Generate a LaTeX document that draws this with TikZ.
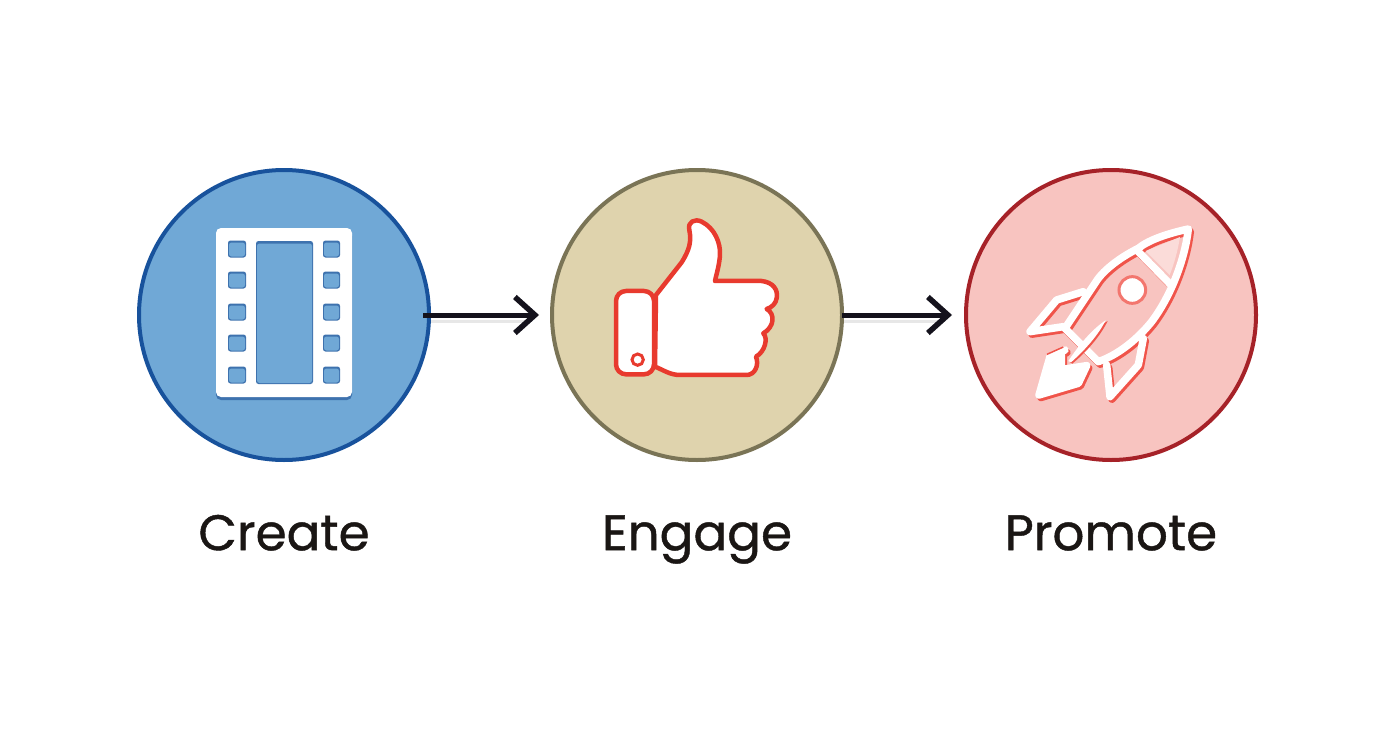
\documentclass[tikz,border=0pt]{standalone}
\usepackage{xcolor}
\usepackage{fontspec}
\setmainfont{Poppins}[FakeBold=0.9]
\usetikzlibrary{arrows.meta,positioning,calc}
\definecolor{createblue}{RGB}{112,168,214}
\definecolor{createedge}{RGB}{24,82,156}
\definecolor{filmshade}{RGB}{62,114,174}
\definecolor{engagesand}{RGB}{223,211,173}
\definecolor{engageedge}{RGB}{122,116,86}
\definecolor{thumbred}{RGB}{232,58,46}
\definecolor{promotepink}{RGB}{248,196,192}
\definecolor{promoteedge}{RGB}{166,34,40}
\definecolor{rocketred}{RGB}{240,84,74}
\definecolor{labelink}{RGB}{26,22,20}
\definecolor{arrowink}{RGB}{20,18,28}
\tikzset{
  stagecircle/.style={circle, draw, line width=4pt, minimum size=290pt, inner sep=0pt, outer sep=0pt},
  stagelabel/.style={font=\fontsize{50}{60}\selectfont, text=labelink, text height=40pt, text depth=12pt, inner sep=0pt},
  flowarrow/.style={draw=arrowink, line width=5pt, -{Straight Barb[length=20pt, width=36pt, line width=5.5pt]}},
  flowshadow/.style={draw=black!30, line width=3pt, opacity=.3},
  filmhole/.style={fill=filmshade, rounded corners=2.5pt},
  filmglass/.style={fill=createblue, rounded corners=2.5pt},
  thumbline/.style={draw=thumbred, line width=4.5pt, fill=white, line join=round},
  rocketline/.style={line width=7.5pt, line join=round, line cap=round},
}
% rocket outlines, in zoomed coordinates
\newcommand{\rocketoutline}[1]{
  \fill[#1] (150,405) -- (105,425) -- (72,540) -- (190,505) -- (215,452) -- (150,462) -- cycle;
  \draw[rocketline, draw=#1] (520,42) .. controls (460,55) and (400,75) .. (370,100) .. controls (310,130) and (260,170) .. (240,205) -- (150,340) -- (250,440) .. controls (310,420) and (370,370) .. (410,320) .. controls (470,240) and (510,130) .. (520,42) -- cycle;
  \draw[rocketline, draw=#1] (370,110) -- (468,210);
  \draw[rocketline, draw=#1] (205,230) -- (125,255) -- (45,350) -- (145,335);
  \draw[rocketline, draw=#1] (385,370) -- (370,450) -- (285,545) -- (275,450);
  \draw[rocketline, draw=#1] (150,405) -- (105,425) -- (72,540) -- (190,505) -- (215,452) -- (150,462);
}
\begin{document}
\begin{tikzpicture}[x=1pt, y=-1pt]
  \useasboundingbox[fill=white] (0,0) rectangle (1392,752);

  % the three stages
  \node[stagecircle, draw=createedge, fill=createblue] (create) at (284,315) {};
  \node[stagecircle, draw=engageedge, fill=engagesand, right=123pt of create] (engage) {};
  \node[stagecircle, draw=promoteedge, fill=promotepink, right=124pt of engage] (promote) {};

  \node[stagelabel, below=50pt of create] (createlabel) {Create};
  \node[stagelabel, below=50pt of engage] (engagelabel) {Engage};
  \node[stagelabel, below=50pt of promote] (promotelabel) {Promote};

  % arrows
  \draw[flowshadow, shorten <=2pt, shorten >=22pt, transform canvas={yshift=-6pt}] (create.east) -- (engage.west);
  \draw[flowshadow, shorten <=2pt, shorten >=22pt, transform canvas={yshift=-6pt}] (engage.east) -- (promote.west);
  \draw[flowarrow, shorten <=-6pt, shorten >=13pt] (create.east) -- (engage.west);
  \draw[flowarrow, shorten >=14pt] (engage.east) -- (promote.west);

  % film strip
  \fill[filmshade, rounded corners=5pt] (216,231) rectangle (352,400);
  \fill[white, rounded corners=5pt] (216,228) rectangle (352,397);
  \fill[filmhole] (256,241) rectangle (313,384);
  \fill[filmglass] (257,243.5) rectangle (312,383);
  \foreach \ypos in {249,280,312,343,375} {
    \fill[filmhole] (228,\ypos-8.5) rectangle (246,\ypos+8.5);
    \fill[filmhole] (323,\ypos-8.5) rectangle (340,\ypos+8.5);
    \fill[filmglass] (229,\ypos-6.5) rectangle (245,\ypos+7.5);
    \fill[filmglass] (324,\ypos-6.5) rectangle (339,\ypos+7.5);
  }

  % thumb
  \begin{scope}[shift={(600,205)}, x=.3333pt, y=-.3333pt]
    \draw[thumbline] (168,270) -- (245,172) .. controls (268,135) and (275,110) .. (268,75) .. controls (262,50) and (285,40) .. (305,50) .. controls (345,70) and (362,115) .. (360,150) .. controls (358,180) and (350,205) .. (345,228) -- (485,228) .. controls (520,232) and (535,255) .. (530,280) .. controls (528,295) and (515,308) .. (500,312) .. controls (525,325) and (525,365) .. (490,385) .. controls (505,400) and (495,440) .. (468,455) .. controls (478,480) and (465,510) .. (440,510) -- (240,510) .. controls (210,510) and (190,495) .. (165,485) -- cycle;
    \draw[thumbline, rounded corners=10pt] (48,258) rectangle (162,508);
    \draw[draw=thumbred, line width=3pt, fill=white] (113,464) circle (17);
  \end{scope}

  % rocket
  \begin{scope}[shift={(1015,215)}, x=.3333pt, y=-.3333pt]
    \begin{scope}[shift={(2pt,-2.5pt)}]
      \rocketoutline{rocketred}
    \end{scope}
    \rocketoutline{white}
    \draw[rocketred, line width=1.5pt] (145,396) -- (96,418);
    \fill[promotepink!60!white] (392,108) -- (495,66) .. controls (488,110) and (476,150) .. (464,180) -- cycle;
    \fill[rocketred] (165,442) .. controls (200,385) and (240,340) .. (278,318) .. controls (255,365) and (215,410) .. (172,446) -- cycle;
    \fill[white] (160,438) .. controls (195,385) and (235,340) .. (272,316) .. controls (250,360) and (210,405) .. (168,442) -- cycle;
    \draw[draw=rocketred!80!white, line width=3pt, fill=white] (352,225) circle (40);
  \end{scope}
\end{tikzpicture}
\end{document}
